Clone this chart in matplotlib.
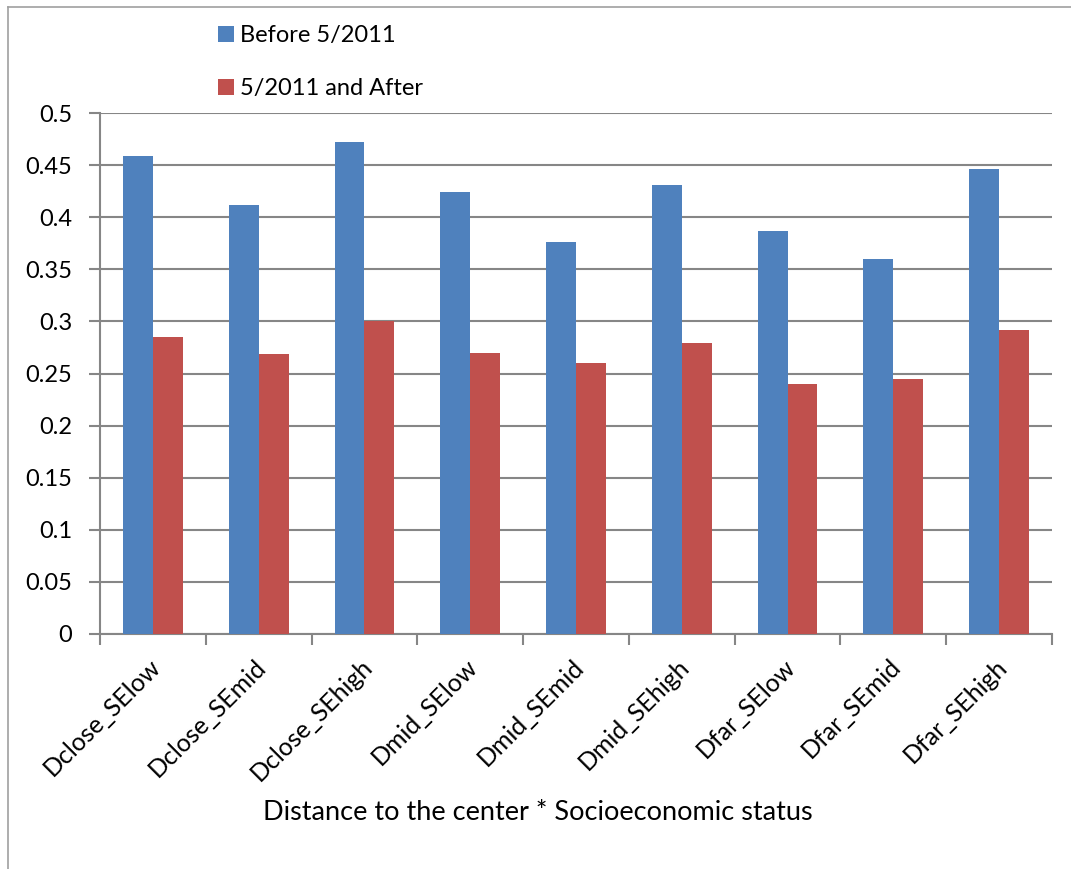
import numpy as np
import matplotlib
matplotlib.use('Agg')
import matplotlib.pyplot as plt
from matplotlib.lines import Line2D

categories = ['Dclose_SElow', 'Dclose_SEmid', 'Dclose_SEhigh',
              'Dmid_SElow', 'Dmid_SEmid', 'Dmid_SEhigh',
              'Dfar_SElow', 'Dfar_SEmid', 'Dfar_SEhigh']
before = [0.459, 0.412, 0.472, 0.424, 0.376, 0.431, 0.387, 0.360, 0.446]
after = [0.285, 0.269, 0.300, 0.270, 0.260, 0.279, 0.240, 0.245, 0.292]
series_names = ['Before 5/2011', '5/2011 and After']
yticks = [0, 0.05, 0.1, 0.15, 0.2, 0.25, 0.3, 0.35, 0.4, 0.45, 0.5]

W, H = 1071, 869
plt.rcParams['font.family'] = ['Lato', 'DejaVu Sans']
grid_col = '#868686'

fig = plt.figure(figsize=(W / 100, H / 100), dpi=100)
ax = fig.add_axes([100 / W, 1 - 634 / H, 952 / W, 521 / H])

x = np.arange(len(categories))
bw = 0.283
ax.bar(x - bw / 2, before, bw, color='#4F81BD', label=series_names[0], zorder=3)
ax.bar(x + bw / 2, after, bw, color='#C0504D', label=series_names[1], zorder=3)

ax.set_xlim(-0.5, len(categories) - 0.5)
ax.set_ylim(0, 0.5)
ax.set_yticks(yticks)
ax.set_yticklabels([f'{v:g}' for v in yticks], fontsize=17)
ax.yaxis.grid(True, color=grid_col, linewidth=1.5, zorder=0)
ax.tick_params(axis='y', length=8, width=1.5, color=grid_col, pad=12)

# category boundary ticks, labels placed separately
ax.set_xticks(np.arange(len(categories) + 1) - 0.5)
ax.set_xticklabels([])
ax.tick_params(axis='x', length=8, width=1.5, color=grid_col)
for i, c in enumerate(categories):
    ax.text(i - 0.04, -0.02, c, rotation=45, ha='right', va='top',
            rotation_mode='anchor', fontsize=18)

for s in ['top', 'right']:
    ax.spines[s].set_visible(False)
for s in ['left', 'bottom']:
    ax.spines[s].set_color(grid_col)
    ax.spines[s].set_linewidth(1.5)

fig.text(538 / W, 1 - 812 / H, 'Distance to the center * Socioeconomic status',
         ha='center', va='center', fontsize=19.5)

fig.legend(loc='upper left', bbox_to_anchor=(197 / W, 1 - 4 / H),
           frameon=False, fontsize=17, handlelength=0.65, handleheight=0.65,
           handletextpad=0.25, labelspacing=1.35)

# chart border (left and top visible)
fig.add_artist(Line2D([8 / W, 8 / W], [0, 1 - 7 / H], transform=fig.transFigure,
                      color='#A0A0A0', linewidth=1.2))
fig.add_artist(Line2D([8 / W, 1], [1 - 7 / H, 1 - 7 / H], transform=fig.transFigure,
                      color='#A0A0A0', linewidth=1.2))

fig.savefig('out.png', dpi=100)
